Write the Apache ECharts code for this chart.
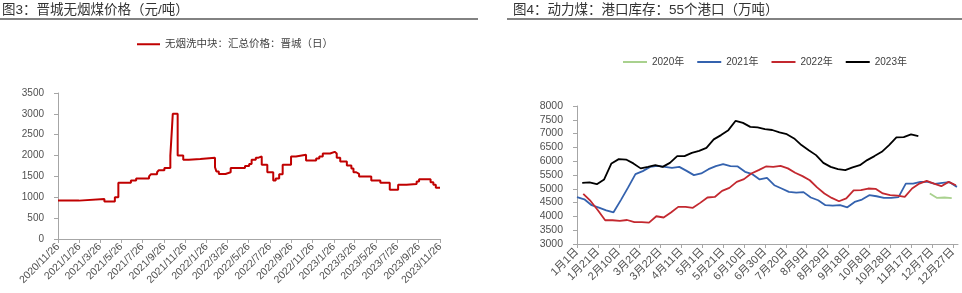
<!DOCTYPE html>
<html><head><meta charset="utf-8">
<script src="https://cdn.jsdelivr.net/npm/echarts@6/dist/echarts.min.js"></script>
<style>html,body{margin:0;padding:0;background:#fff}#c{width:962px;height:293px}</style>
</head><body><div id="c"></div>
<script>
// ---------- Left chart data ----------
const leftTitle = '图3：晋城无烟煤价格（元/吨）';
const leftSeriesName = '无烟洗中块：汇总价格：晋城（日）';
const leftTickLabels = ['2020/11/26','2021/1/26','2021/3/26','2021/5/26','2021/7/26','2021/9/26','2021/11/26',
  '2022/1/26','2022/3/26','2022/5/26','2022/7/26','2022/9/26','2022/11/26',
  '2023/1/26','2023/3/26','2023/5/26','2023/7/26','2023/9/26','2023/11/26'];
const leftDates = ['2020/11/26','2021/1/25','2021/4/8','2021/5/8','2021/5/18','2021/6/23','2021/7/8','2021/8/14','2021/8/19',
  '2021/9/6','2021/9/11','2021/9/27','2021/10/14','2021/10/19','2021/10/21','2021/11/4','2021/11/20','2021/12/6',
  '2022/1/8','2022/2/19','2022/2/23','2022/3/2','2022/3/21','2022/4/5','2022/5/16','2022/5/28','2022/6/4','2022/6/16',
  '2022/6/24','2022/7/3','2022/7/19','2022/8/5','2022/8/12','2022/8/22','2022/9/1','2022/9/25','2022/10/9','2022/11/7',
  '2022/12/6','2022/12/15','2022/12/25','2023/1/15','2023/1/28','2023/2/3','2023/2/13','2023/3/4','2023/3/17','2023/3/23',
  '2023/3/31','2023/4/8','2023/5/13','2023/6/8','2023/7/5','2023/7/29','2023/8/22','2023/9/20','2023/9/27','2023/10/30',
  '2023/11/7','2023/11/14','2023/11/26'];
const leftPrices = [920,960,900,1000,1350,1400,1450,1500,1550,
  1600,1650,1700,2000,2700,3000,2000,1900,1920,
  1950,1720,1620,1560,1600,1700,1750,1800,1900,1950,
  1980,1780,1600,1400,1450,1550,1780,1980,2020,1880,
  1930,1980,2050,2090,2050,1950,1860,1760,1690,1600,
  1560,1500,1400,1350,1180,1300,1320,1380,1430,1360,
  1300,1230,1230];

// ---------- Right chart data ----------
const rightTitle = '图4：动力煤：港口库存：55个港口（万吨）';
const rightTickLabels = ['1月1日','1月21日','2月10日','3月2日','3月22日','4月11日','5月1日','5月21日','6月10日','6月30日',
  '7月20日','8月9日','8月29日','9月18日','10月8日','10月28日','11月17日','12月7日','12月27日'];
const rightTickDays = [0,20,40,60,80,100,120,140,160,180,200,220,240,260,280,300,320,340,360];
const seriesNames = ['2020年','2021年','2022年','2023年'];
const days2020 = [338,345,352,359];
const stock2020 = [4830,4670,4685,4660];
const days2021 = [0,7,14,21,28,35,42,49,56,63,70,77,84,91,98,105,112,119,126,133,140,147,154,161,168,175,182,189,196,203,
  210,217,224,231,238,245,252,259,266,273,280,287,294,301,308,315,322,329,336,343,350,357,364];
const stock2021 = [4700,4620,4405,4320,4220,4150,4590,5050,5530,5640,5795,5830,5795,5760,5795,5650,5495,5555,5710,5820,
  5890,5820,5810,5615,5530,5340,5400,5130,5010,4890,4865,4880,4685,4585,4405,4393,4405,4330,4525,4610,4770,4730,4670,4670,
  4700,5190,5190,5250,5250,5180,5215,5240,5070];
const days2022 = [6,13,20,27,34,41,48,55,62,69,76,83,90,97,104,111,118,125,132,139,146,153,160,167,174,181,188,195,202,209,
  216,223,230,237,244,251,258,265,272,279,286,293,300,307,314,321,328,335,342,349,356,363];
const stock2022 = [4815,4560,4225,3860,3860,3835,3870,3790,3790,3775,4005,3960,4140,4345,4345,4310,4490,4685,4705,4925,
  5035,5250,5350,5555,5675,5810,5795,5830,5740,5580,5460,5310,5050,4830,4670,4550,4650,4940,4950,5010,5000,4830,4770,4755,
  4705,5010,5190,5290,5190,5095,5250,5130];
const days2023 = [5,12,19,26,33,40,47,54,61,68,75,82,89,96,103,110,117,124,131,138,145,152,159,166,173,180,187,194,201,208,
  215,222,229,236,243,250,257,264,271,278,285,292,299,306,313,320,327];
const stock2023 = [5215,5230,5165,5340,5920,6075,6060,5920,5740,5795,5855,5795,5940,6185,6185,6300,6375,6485,6790,6945,
  7125,7465,7390,7245,7225,7165,7130,7045,6980,6825,6585,6400,6220,5940,5795,5710,5675,5775,5855,6040,6185,6340,6585,6860,
  6875,6970,6910];

// ---------- helpers ----------
function ts(s){const p=s.split('/').map(Number);return Date.UTC(p[0],p[1]-1,p[2]);}
function pairs(xs, ys){return xs.map((x,i)=>[x,ys[i]]);}

const FONT = "'Liberation Sans','Noto Sans CJK SC',sans-serif";
const LABEL_COLOR = '#505050';
const AXIS_COLOR = '#A6A6A6';
const colors = {'2020年':'#A9D18E','2021年':'#3462AE','2022年':'#C3282F','2023年':'#000000'};

const chart = echarts.init(document.getElementById('c'), null, {renderer:'canvas'});
const leftTicks = leftTickLabels.map(ts);
const plain = function(v){return String(v);};

const option = {
  animation:false,
  textStyle:{fontFamily:FONT},
  title:[
    {text:leftTitle,left:2,top:4,padding:0,textStyle:{fontSize:13.5,fontWeight:'normal',color:'#333',fontFamily:FONT}},
    {text:rightTitle,left:513,top:4,padding:0,textStyle:{fontSize:13.5,fontWeight:'normal',color:'#333',fontFamily:FONT}}
  ],
  graphic:[
    {type:'line',shape:{x1:0,y1:19,x2:478,y2:19},style:{stroke:'#595959',lineWidth:1.5}},
    {type:'line',shape:{x1:507,y1:19,x2:962,y2:19},style:{stroke:'#595959',lineWidth:1.5}}
  ],
  legend:[
    {data:[leftSeriesName],left:137,top:39,padding:0,itemWidth:23,itemHeight:2,icon:'rect',
     textStyle:{fontSize:10.5,color:'#404040',fontFamily:FONT}},
    {data:seriesNames,left:623,top:57,padding:0,itemWidth:24,itemHeight:2,itemGap:13,icon:'rect',
     textStyle:{fontSize:10,color:'#404040',fontFamily:FONT}}
  ],
  grid:[
    {left:58,top:93,width:382,height:146},
    {left:577,top:106,width:381,height:138}
  ],
  xAxis:[
    {type:'value',gridIndex:0,min:leftTicks[0],max:leftTicks[leftTicks.length-1],
     splitLine:{show:false},
     axisLine:{lineStyle:{color:AXIS_COLOR}},
     axisTick:{customValues:leftTicks,length:4,lineStyle:{color:AXIS_COLOR}},
     axisLabel:{customValues:leftTicks,rotate:45,margin:6,fontSize:10.5,color:LABEL_COLOR,fontFamily:FONT,
       formatter:function(v){const i=leftTicks.indexOf(v);return i>=0?leftTickLabels[i]:'';}}},
    {type:'value',gridIndex:1,min:0,max:365,
     splitLine:{show:false},
     axisLine:{lineStyle:{color:AXIS_COLOR}},
     axisTick:{customValues:rightTickDays,length:4,lineStyle:{color:AXIS_COLOR}},
     axisLabel:{customValues:rightTickDays,rotate:45,margin:6,fontSize:11,color:LABEL_COLOR,fontFamily:FONT,
       formatter:function(v){const i=rightTickDays.indexOf(v);return i>=0?rightTickLabels[i]:'';}}}
  ],
  yAxis:[
    {type:'value',gridIndex:0,min:0,max:3500,interval:500,
     splitLine:{show:false},
     axisLine:{show:true,lineStyle:{color:AXIS_COLOR}},
     axisTick:{show:true,length:4,lineStyle:{color:AXIS_COLOR}},
     axisLabel:{margin:14,fontSize:10,color:LABEL_COLOR,fontFamily:FONT,formatter:plain}},
    {type:'value',gridIndex:1,min:3000,max:8000,interval:500,
     splitLine:{show:false},
     axisLine:{show:true,lineStyle:{color:AXIS_COLOR}},
     axisTick:{show:true,length:4,lineStyle:{color:AXIS_COLOR}},
     axisLabel:{margin:14,fontSize:10.5,color:LABEL_COLOR,fontFamily:FONT,formatter:plain}}
  ],
  series:[
    {name:leftSeriesName,type:'line',xAxisIndex:0,yAxisIndex:0,step:'end',showSymbol:false,
     data:pairs(leftDates.map(ts),leftPrices),itemStyle:{color:'#C00000'},lineStyle:{color:'#C00000',width:2}},
    {name:'2020年',type:'line',xAxisIndex:1,yAxisIndex:1,showSymbol:false,data:pairs(days2020,stock2020),
     itemStyle:{color:colors['2020年']},lineStyle:{color:colors['2020年'],width:1.8}},
    {name:'2021年',type:'line',xAxisIndex:1,yAxisIndex:1,showSymbol:false,data:pairs(days2021,stock2021),
     itemStyle:{color:colors['2021年']},lineStyle:{color:colors['2021年'],width:1.8}},
    {name:'2022年',type:'line',xAxisIndex:1,yAxisIndex:1,showSymbol:false,data:pairs(days2022,stock2022),
     itemStyle:{color:colors['2022年']},lineStyle:{color:colors['2022年'],width:1.8}},
    {name:'2023年',type:'line',xAxisIndex:1,yAxisIndex:1,showSymbol:false,data:pairs(days2023,stock2023),
     itemStyle:{color:colors['2023年']},lineStyle:{color:colors['2023年'],width:1.8}}
  ]
};
chart.setOption(option);
</script>
</body></html>
